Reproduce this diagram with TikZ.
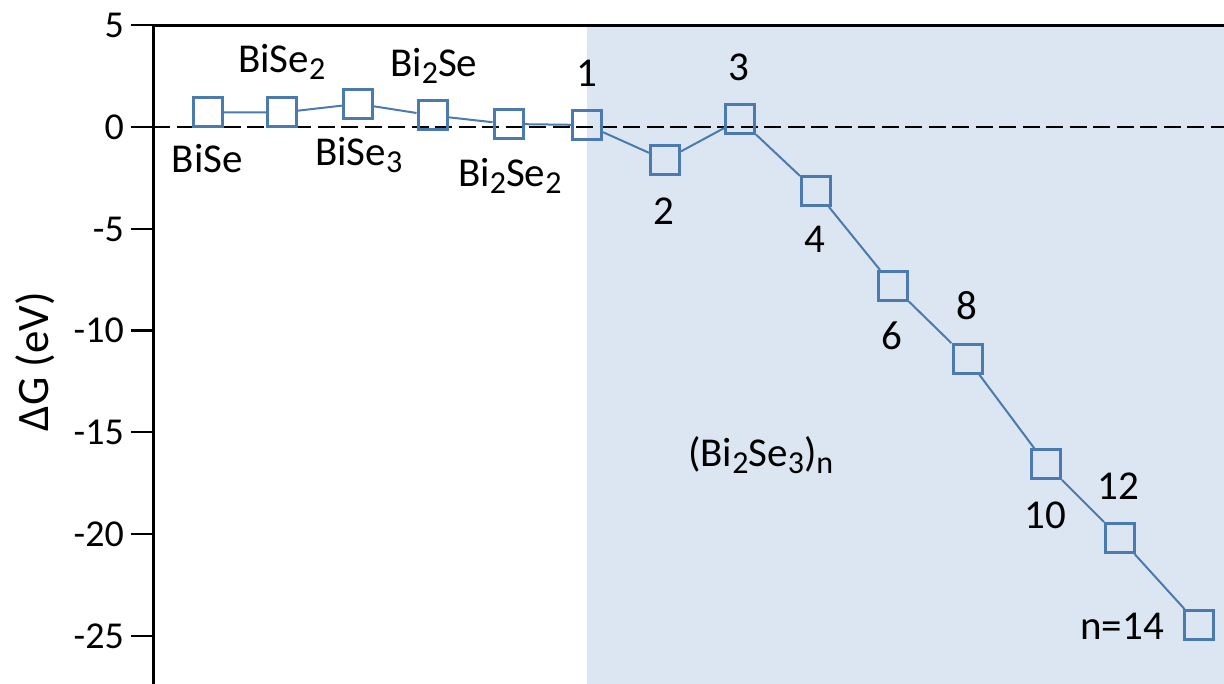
\documentclass[tikz,border=0pt]{standalone}
\usepackage{fontspec}
\setmainfont{Carlito}
\definecolor{sqblue}{HTML}{4A7AAE}
\definecolor{shadeblue}{HTML}{DCE6F2}
\newcommand\mysub[1]{\raisebox{-7pt}{\fontsize{32}{32}\selectfont #1}}
\begin{document}
\begin{tikzpicture}[x=1pt,y=-1pt,
  pt/.style={draw=sqblue,line width=3pt,minimum size=29pt,inner sep=0pt,rectangle},
  conn/.style={draw=sqblue,line width=2pt},
  lbl/.style={font=\fontsize{41}{44}\selectfont,inner sep=0pt,text=black},
  ticklbl/.style={font=\fontsize{38}{40}\selectfont,inner sep=0pt,anchor=base east},
  tick/.style={line width=2.5pt,draw=black}]
\useasboundingbox (0,0) rectangle (1224,684);
% shaded region
\fill[shadeblue] (587,26) rectangle (1224,684);
% zero line
\draw[line width=2.5pt,dash pattern=on 17pt off 6.5pt] (153,127) -- (1224,127);
% axes
\draw[line width=3pt] (153,684) -- (153,25.5) -- (1224,25.5);
% ticks and labels
\foreach \v/\yy in {5/25,0/127,-5/229,-10/330.5,-15/432,-20/534,-25/636}{
  \draw[tick] (131,\yy) -- (153,\yy);
}
\node[ticklbl] (t5) at (124,38) {5};
\node[ticklbl] (t0) at (124,139.5) {0};
\node[ticklbl] (tm5) at (124,241.5) {-5};
\node[ticklbl] (tm10) at (124,343) {-10};
\node[ticklbl] (tm15) at (124,444.5) {-15};
\node[ticklbl] (tm20) at (124,546.5) {-20};
\node[ticklbl] (tm25) at (124,648.5) {-25};
\node[lbl,font=\fontsize{45}{46}\selectfont,rotate=90,anchor=base] (ylab) at (48,361.5) {ΔG (eV)};
% data points
\node[pt] (p1) at (207.8,112.5) {};
\node[pt] (p2) at (282,112.5) {};
\node[pt] (p3) at (357.8,103.8) {};
\node[pt] (p4) at (432.5,115.5) {};
\node[pt] (p5) at (508.5,124) {};
\node[pt] (n1) at (587,125) {};
\node[pt] (n2) at (665,160) {};
\node[pt] (n3) at (740,119.5) {};
\node[pt] (n4) at (816,191) {};
\node[pt] (n6) at (893,286) {};
\node[pt] (n8) at (967.5,358.8) {};
\node[pt] (n10) at (1046,464) {};
\node[pt] (n12) at (1120,538) {};
\node[pt] (n14) at (1199,625) {};
\draw[conn] (p1) -- (p2) -- (p3) -- (p4) -- (p5) -- (n1) -- (n2) -- (n3) -- (n4) -- (n6) -- (n8) -- (n10) -- (n12) -- (n14);
% labels
\node[lbl,anchor=base west] (lp1) at (171.7,173) {BiSe};
\node[lbl,anchor=base west] (lp2) at (238,73) {BiSe\mysub{2}};
\node[lbl,anchor=base west] (lp3) at (315,166) {BiSe\mysub{3}};
\node[lbl,anchor=base west] (lp4) at (390,77) {Bi\mysub{2}Se};
\node[lbl,anchor=base west] (lp5) at (458,187) {Bi\mysub{2}Se\mysub{2}};
\node[lbl,anchor=base] (ln1) at (587,87) {1};
\node[lbl,anchor=base] (ln2) at (664,225) {2};
\node[lbl,anchor=base] (ln3) at (739,81) {3};
\node[lbl,anchor=base] (ln4) at (815,253) {4};
\node[lbl,anchor=base] (ln6) at (892,350) {6};
\node[lbl,anchor=base] (ln8) at (967,320) {8};
\node[lbl,anchor=base] (ln10) at (1045,528) {10};
\node[lbl,anchor=base] (ln12) at (1118,500) {12};
\node[lbl,anchor=base east] (ln14) at (1164,639) {n=14};
\node[lbl,anchor=base west] (lbs) at (688,467) {(Bi\mysub{2}Se\mysub{3})\mysub{n}};
\end{tikzpicture}
\end{document}
